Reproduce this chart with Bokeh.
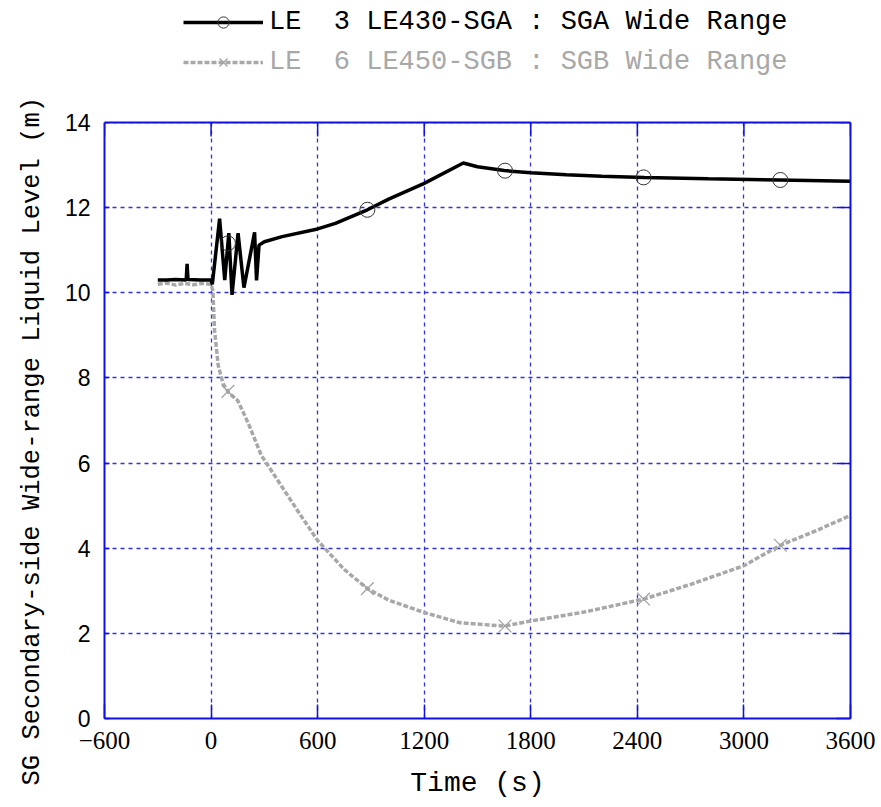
import numpy as np
from bokeh.plotting import figure
from bokeh.models import (Range1d, FixedTicker, LinearAxis, Legend, LegendItem,
                          CustomJSTickFormatter, BoxAnnotation, Span, Title)
from bokeh.embed import file_html
from bokeh.resources import INLINE

# ---- data ----
time_a = [-300, -250, -200, -140, -135, -130, -60, 0, 7, 48, 77, 100, 118, 152,
          185, 245, 256, 270, 300, 400, 600, 700, 880, 1000, 1200, 1420, 1500,
          1650, 1800, 2000, 2200, 2440, 2800, 3200, 3600]
level_a = [10.30, 10.30, 10.31, 10.30, 10.68, 10.31, 10.30, 10.30, 10.20, 11.74,
           10.30, 11.40, 9.95, 11.40, 10.12, 11.42, 10.29, 11.12, 11.20, 11.32,
           11.50, 11.63, 11.95, 12.20, 12.57, 13.05, 12.96, 12.87, 12.82, 12.77,
           12.74, 12.71, 12.68, 12.65, 12.62]

time_b = [-300, -250, -200, -150, -100, -50, 0, 10, 20, 40, 67, 100, 150, 210,
          283, 395, 500, 600, 750, 880, 1000, 1200, 1400, 1650, 1800, 2100, 2440,
          2700, 3000, 3200, 3400, 3600]
level_b = [10.20, 10.23, 10.18, 10.22, 10.19, 10.22, 10.20, 10.05, 9.10, 8.30,
           7.87, 7.65, 7.47, 6.93, 6.18, 5.47, 4.80, 4.18, 3.50, 3.05, 2.78,
           2.49, 2.25, 2.17, 2.29, 2.50, 2.81, 3.15, 3.59, 4.06, 4.40, 4.77]

marker_times = [95, 880, 1655, 2435, 3205]

x_ticks = [-600, 0, 600, 1200, 1800, 2400, 3000, 3600]
y_ticks = [0, 2, 4, 6, 8, 10, 12, 14]

label_a = "LE\u00a0\u00a03 LE430-SGA : SGA Wide Range"
label_b = "LE\u00a0\u00a06 LE450-SGB : SGB Wide Range"
x_title = "Time (s)"
y_title = "SG Secondary-side Wide-range Liquid Level (m)"

X0, X1 = -600, 3600
Y0, Y1 = 0, 14

BLUE = "#1010e0"
GRID = "#3030e0"
MONO = "Liberation Mono"
NARROW = "Liberation Sans Narrow"

# layout: plot box from y=122 to y=718 px; legend lives in the frame above it
FRAME_H = 718
BOX_H = 596
Y_TOP = Y1 * FRAME_H / BOX_H
PX_PER_UNIT = BOX_H / (Y1 - Y0)

p = figure(width=881, height=807, output_backend="svg", toolbar_location=None,
           x_range=Range1d(X0, X1), y_range=Range1d(Y0, Y_TOP),
           min_border_left=103, min_border_right=31, min_border_top=0,
           min_border_bottom=89)
p.background_fill_color = "white"
p.border_fill_color = "white"
p.outline_line_color = None

for ax in (p.xaxis[0], p.yaxis[0]):
    ax.axis_line_color = BLUE
    ax.axis_line_width = 2
    ax.major_tick_line_color = BLUE
    ax.major_tick_line_width = 1.5
    ax.major_tick_out = 0
    ax.minor_tick_out = 0
    ax.minor_tick_in = 0
    ax.major_label_text_color = "black"
    ax.axis_label_text_color = "black"
    ax.axis_label_text_font_style = "normal"

p.yaxis.bounds = (Y0, Y1)
p.xaxis.ticker = FixedTicker(ticks=x_ticks)
p.yaxis.ticker = FixedTicker(ticks=y_ticks)
p.xaxis.major_tick_in = 14
p.yaxis.major_tick_in = 5
p.xaxis.major_label_text_font = NARROW
p.xaxis.major_label_text_font_size = "25px"
p.xaxis.major_label_standoff = 13
p.yaxis.major_label_text_font = "Liberation Sans"
p.yaxis.major_label_text_font_size = "23px"
p.yaxis.major_label_standoff = 14
p.xaxis.axis_label = x_title
p.xaxis.axis_label_text_font = MONO
p.xaxis.axis_label_text_font_size = "28px"
p.xaxis.axis_label_standoff = 16

# y title as a side title so it can sit centred on the plot box
p.add_layout(Title(text=y_title, align="left", offset=-67, standoff=30,
                   text_font=MONO, text_font_size="25.5px",
                   text_font_style="normal", text_color="black"), "left")

# right axis: ticks only
empty = CustomJSTickFormatter(code="return ''")
p.add_layout(LinearAxis(ticker=FixedTicker(ticks=y_ticks), formatter=empty,
                        bounds=(Y0, Y1), axis_line_color=BLUE, axis_line_width=2,
                        major_tick_line_color=BLUE, major_tick_line_width=1.5,
                        major_tick_in=14, major_tick_out=0, minor_tick_in=0,
                        minor_tick_out=0, major_label_standoff=0,
                        major_label_text_font_size="0px"), "right")

p.xgrid.ticker = FixedTicker(ticks=x_ticks)
p.ygrid.ticker = FixedTicker(ticks=y_ticks)
for g in (p.xgrid[0], p.ygrid[0]):
    g.grid_line_color = GRID
    g.grid_line_width = 1.3
    g.grid_line_dash = "4 4"

# top tick marks (inside)
p.segment(x0=x_ticks, y0=[Y1] * len(x_ticks), x1=x_ticks,
          y1=[Y1 - 14 / PX_PER_UNIT] * len(x_ticks),
          line_color=BLUE, line_width=1.5)

# series
GRAY_LINE = dict(line_color="#a8a8a8", line_width=3.5, line_dash="5 2")
GRAY_MK = dict(marker="x", size=18, line_color="#a0a0a0", line_width=1.2)
BLACK_LINE = dict(line_color="black", line_width=3.5)
BLACK_MK = dict(marker="circle", size=15, fill_color=None, line_color="#333333",
                line_width=1)

lb = p.line(time_b, level_b, **GRAY_LINE)
mb = p.scatter(marker_times, list(np.interp(marker_times, time_b, level_b)), **GRAY_MK)
la = p.line(time_a, level_a, **BLACK_LINE)
ma = p.scatter(marker_times, list(np.interp(marker_times, time_a, level_a)), **BLACK_MK)

# blank the area above the plot box, then draw its top edge
p.add_layout(BoxAnnotation(bottom=Y1, fill_color="white", fill_alpha=1,
                           line_alpha=0, line_width=0))
p.add_layout(Span(location=Y1, dimension="width", line_color=BLUE, line_width=2))


def make_legend(label, renderers, color, vy):
    lg = Legend(items=[LegendItem(label=label, renderers=renderers)],
                location=(79, vy), orientation="vertical",
                glyph_width=80, glyph_height=28, label_height=30,
                label_standoff=6, padding=0, margin=0, spacing=0,
                border_line_color=None, background_fill_alpha=0,
                label_text_font=MONO, label_text_font_size="27px",
                label_text_color=color)
    p.add_layout(lg, "center")


make_legend(label_a, [la, ma], "black", FRAME_H - 37)
make_legend(label_b, [lb, mb], "#a8a8a8", FRAME_H - 77)

open("out.html", "w").write(file_html(p, INLINE))
